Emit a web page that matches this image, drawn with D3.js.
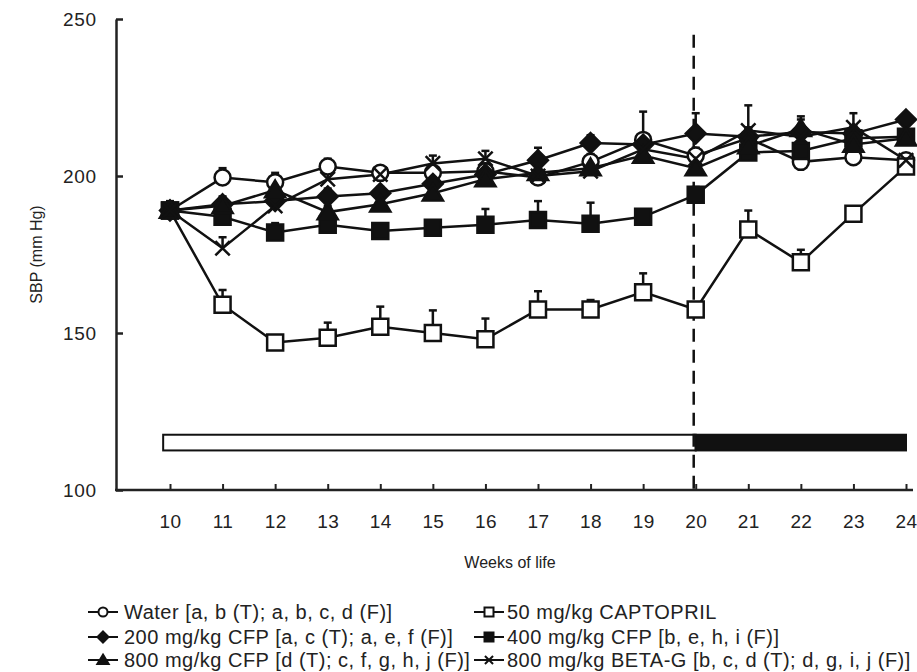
<!DOCTYPE html>
<html>
<head>
<meta charset="utf-8">
<script src="https://cdn.jsdelivr.net/npm/d3@7"></script>
<style>
  body { margin: 0; background: #fff; }
  svg text { font-family: "Liberation Sans", Arial, sans-serif; fill: #222; }
</style>
</head>
<body>
<svg id="chart" width="917" height="672"></svg>
<script>
// weeks of life
var weeks = [10, 11, 12, 13, 14, 15, 16, 17, 18, 19, 20, 21, 22, 23, 24];
var yTicks = [100, 150, 200, 250];

// mean SBP per group
var water    = [189, 199.5, 198, 203, 201, 201, 201.5, 199.5, 204.5, 211.5, 206.5, 212, 204.5, 206, 205];
var cfp200   = [189, 191, 192, 193.5, 194.5, 197.5, 200.5, 205, 210.5, 210, 213.5, 212.5, 214, 213.5, 218];
var captopril= [189, 159, 147, 148.5, 152, 150, 148, 157.5, 157.5, 163, 157.5, 183, 172.5, 188, 203];
var cfp400   = [189, 187, 182, 184.5, 182.5, 183.5, 184.5, 186, 184.8, 187, 194, 207.5, 208, 212, 212.5];
var cfp800   = [189, 190.5, 195.5, 188.5, 191, 194.5, 199, 201, 202.5, 206.5, 202.5, 209.5, 215, 210, 212];
var betaG    = [189, 177, 190.5, 199, 200.5, 204, 205.5, 200, 201.5, 208.5, 205.5, 214.5, 212.5, 215.5, 205];

// upper error bars (SEM)
var waterErr = [2, 3, 3, 2.5, 2, 2, 2.5, 2, 2.5, 9, 2.5, 3, 2.5, 2, 2];
var cfp200Err= [2, 2, 2, 2.5, 2, 2.5, 2.5, 4, 2.5, 3, 6.5, 3, 5, 2.5, 2];
var captErr  = [3, 4.7, 1.5, 4.8, 6.4, 7.2, 6.6, 5.8, 3, 6, 2, 6, 4, 2, 2];
var cfp400Err= [2, 3, 3, 2, 2, 2, 5, 6, 6.7, 2, 2.5, 3, 3, 2.5, 2];
var cfp800Err= [2, 3, 2.5, 2, 2, 2.5, 2, 2.5, 2.5, 3, 2.5, 3, 3, 2.5, 2];
var betaGErr = [2, 3.5, 2, 2, 2, 2.5, 2.5, 2, 2, 2.5, 2.5, 8, 3, 4.5, 2];

// treatment periods shown as a bar under the curves
var periodStart = [9.87, 20];
var periodEnd   = [20, 24];
var periodFill  = ["#fff", "#111"];

var svg = d3.select("#chart");
var x = d3.scaleLinear().domain([10, 24]).range([170, 906]);
var y = d3.scaleLinear().domain([100, 250]).range([490, 19]);

// marker shapes drawn around 0,0
function shapePath(type, s) {
    var p = d3.path();
    if (type == "circle") {
        p.arc(0, 0, s / 2, 0, 2 * Math.PI);
    } else if (type == "square") {
        p.rect(-s / 2, -s / 2, s, s);
    } else if (type == "diamond") {
        var h = s * 0.62;
        p.moveTo(0, -h); p.lineTo(h, 0); p.lineTo(0, h); p.lineTo(-h, 0); p.closePath();
    } else if (type == "triangle") {
        var w = s * 0.6;
        p.moveTo(0, -w); p.lineTo(w * 1.05, w * 0.75); p.lineTo(-w * 1.05, w * 0.75); p.closePath();
    } else if (type == "x") {
        var a = s * 0.45;
        p.moveTo(-a, -a); p.lineTo(a, a); p.moveTo(a, -a); p.lineTo(-a, a);
    }
    return p.toString();
}

var series = [
    { name: "Water [a, b (T); a, b, c, d (F)]", vals: water, err: waterErr, shape: "circle", fill: "#fff" },
    { name: "50 mg/kg CAPTOPRIL", vals: captopril, err: captErr, shape: "square", fill: "#fff" },
    { name: "200 mg/kg CFP [a, c (T); a, e, f (F)]", vals: cfp200, err: cfp200Err, shape: "diamond", fill: "#111" },
    { name: "400 mg/kg CFP [b, e, h, i (F)]", vals: cfp400, err: cfp400Err, shape: "square", fill: "#111" },
    { name: "800 mg/kg CFP [d (T); c, f, g, h, j (F)]", vals: cfp800, err: cfp800Err, shape: "triangle", fill: "#111" },
    { name: "800 mg/kg BETA-G [b, c, d (T); d, g, i, j (F)]", vals: betaG, err: betaGErr, shape: "x", fill: "none" }
];

// axes
var yAxis = d3.axisLeft(y).tickValues(yTicks).tickSizeInner(-7).tickSizeOuter(0).tickPadding(19);
var gy = svg.append("g").attr("transform", "translate(116,0)").call(yAxis);
gy.selectAll("text").style("font-size", "19px").style("letter-spacing", "0.8px");
gy.selectAll("line, path").attr("stroke", "#222").attr("stroke-width", 2.5);

var xAxis = d3.axisBottom(x).tickValues(weeks).tickSizeInner(-6).tickSizeOuter(0).tickPadding(25).tickFormat(d3.format("d"));
var gx = svg.append("g").attr("transform", "translate(0,490)").call(xAxis);
gx.select(".domain").remove();
gx.selectAll("text").style("font-size", "19px").style("letter-spacing", "0.4px");
gx.selectAll("line").attr("stroke", "#222").attr("stroke-width", 2);
svg.append("line").attr("x1", 115).attr("x2", 913).attr("y1", 490).attr("y2", 490)
    .attr("stroke", "#222").attr("stroke-width", 2.5);

svg.append("text").attr("transform", "translate(42," + y(175) + ") rotate(-90)")
    .attr("text-anchor", "middle").style("font-size", "16px").text("SBP (mm Hg)");
svg.append("text").attr("x", 510).attr("y", 568).attr("text-anchor", "middle")
    .style("font-size", "16px").text("Weeks of life");

// treatment bar
periodStart.forEach(function(s, i) {
    svg.append("rect")
        .attr("x", x(s)).attr("y", y(117.6))
        .attr("width", x(periodEnd[i]) - x(s)).attr("height", y(112.6) - y(117.6))
        .attr("fill", periodFill[i]).attr("stroke", "#111").attr("stroke-width", 2);
});

// switch of treatment at week 20
svg.append("line").attr("x1", x(20) - 2).attr("x2", x(20) - 2).attr("y1", y(245)).attr("y2", y(100))
    .attr("stroke", "#111").attr("stroke-width", 2.5).attr("stroke-dasharray", "13,8");

var line = d3.line().x(function(d, i) { return x(weeks[i]); }).y(function(d) { return y(d); });

series.forEach(function(s) {
    svg.append("path").datum(s.vals).attr("d", line)
        .attr("fill", "none").attr("stroke", "#111").attr("stroke-width", 2.5);
});

// error bars
series.forEach(function(s) {
    var g = svg.append("g").attr("stroke", "#111").attr("stroke-width", 2.5);
    s.vals.forEach(function(v, i) {
        var top = y(v + s.err[i]);
        g.append("line").attr("x1", x(weeks[i])).attr("x2", x(weeks[i])).attr("y1", y(v)).attr("y2", top);
        g.append("line").attr("x1", x(weeks[i]) - 4).attr("x2", x(weeks[i]) + 4).attr("y1", top).attr("y2", top);
    });
});

// markers
series.forEach(function(s) {
    svg.append("g").selectAll("path").data(s.vals).enter().append("path")
        .attr("transform", function(d, i) { return "translate(" + x(weeks[i]) + "," + y(d) + ")"; })
        .attr("d", shapePath(s.shape, 16))
        .attr("fill", s.fill).attr("stroke", "#111").attr("stroke-width", 2.5);
});

// legend
var legX = [88, 474];
var legTextX = [124, 507];
var legY = [612, 637, 660];
series.forEach(function(s, i) {
    var col = i % 2, row = Math.floor(i / 2);
    var lx = legX[col], ly = legY[row];
    var g = svg.append("g");
    g.append("line").attr("x1", lx).attr("x2", lx + 30).attr("y1", ly).attr("y2", ly)
        .attr("stroke", "#111").attr("stroke-width", 2);
    g.append("path").attr("transform", "translate(" + (lx + 15) + "," + ly + ")")
        .attr("d", shapePath(s.shape, 9))
        .attr("fill", s.fill).attr("stroke", "#111").attr("stroke-width", 2);
    g.append("text").attr("x", legTextX[col]).attr("y", ly).attr("dy", "0.35em")
        .style("font-size", "20px").style("letter-spacing", "0.5px").text(s.name);
});
</script>
</body>
</html>
